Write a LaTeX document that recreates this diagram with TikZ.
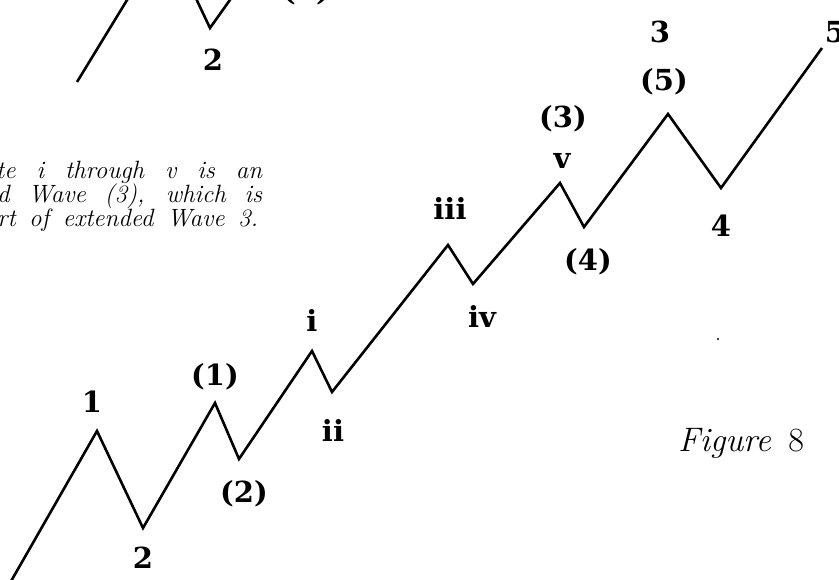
\documentclass[tikz,border=0pt]{standalone}
\usepackage{fontspec}
\newfontfamily\schoolbold{DejaVu Serif}
\newcommand\lblfont{\schoolbold\bfseries\fontsize{29}{29}\selectfont}
\newcommand\txtfont{\rmfamily\itshape\fontsize{25}{25}\selectfont}
\newcommand\figfont{\rmfamily\itshape\fontsize{34}{34}\selectfont}
\begin{document}
\begin{tikzpicture}[x=1pt,y=-1pt,
  wave/.style={line width=2.6pt, line join=miter},
  lbl/.style={font=\lblfont, inner sep=0pt},
  txt/.style={font=\txtfont, inner sep=0pt, anchor=base west}]
\useasboundingbox (0,0) rectangle (839,580);
\clip (0,0) rectangle (839,580);
% main wave points
\coordinate (s)    at (6,590);
\coordinate (w1)   at (97,431);
\coordinate (w2)   at (143,528);
\coordinate (q1)   at (215,403);
\coordinate (q2)   at (239,459);
\coordinate (ri)   at (312,351);
\coordinate (rii)  at (332,392);
\coordinate (riii) at (448,245);
\coordinate (riv)  at (473,284);
\coordinate (rv)   at (560,183);
\coordinate (q4)   at (584,227);
\coordinate (q5)   at (668,114);
\coordinate (w4)   at (721,188);
\coordinate (e)    at (822,48);
\draw[wave] (s) -- (w1) -- (w2) -- (q1) -- (q2) -- (ri) -- (rii) -- (riii)
  -- (riv) -- (rv) -- (q4) -- (q5) -- (w4) -- (e);
% top-left fragment
\coordinate (ta) at (77,82);
\coordinate (tb) at (135,-13);
\coordinate (tc) at (192,-10);
\coordinate (td) at (210,28);
\coordinate (te) at (237,-10);
\draw[wave] (ta) -- (tb);
\draw[wave] (tc) -- (td) -- (te);
% labels
\node[lbl] (l2top) at (213,60) {2};
\node[lbl] (lp2top) at (306,-8) {(2)};
\node[lbl] (l1) at (92,402) {1};
\node[lbl] (l2) at (143,558) {2};
\node[lbl] (lp1) at (215,377) {(1)};
\node[lbl] (lp2) at (244,494) {(2)};
\node[lbl] (li) at (312,320) {i};
\node[lbl] (lii) at (333,430) {ii};
\node[lbl] (liii) at (450,208) {iii};
\node[lbl] (liv) at (482,316) {iv};
\node[lbl] (lv) at (562,161) {v};
\node[lbl] (lp3) at (563,119) {(3)};
\node[lbl] (lp4) at (588,262) {(4)};
\node[lbl] (lp5) at (664,82) {(5)};
\node[lbl] (l3) at (660,32) {3};
\node[lbl] (l4) at (721,226) {4};
\node[lbl] (l5) at (835,32) {5};
% caption text
\node[txt] (t1) at (-4,179) {\makebox[266pt][s]{te i through v is an}};
\node[txt] (t2) at (-3,203) {\makebox[265pt][s]{d Wave (3), which is}};
\node[txt] (t3) at (-3,227) {\makebox[261pt][s]{rt of extended Wave 3.}};
\node[font=\figfont, inner sep=0pt, anchor=base west] (fig) at (678,451) {Figure\, {\upshape 8}};
% speck
\fill (718,339) circle (1.2);
\end{tikzpicture}
\end{document}
